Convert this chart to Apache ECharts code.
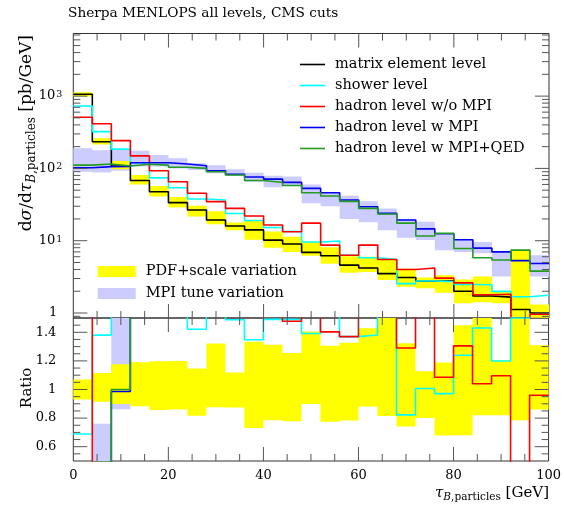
<!DOCTYPE html>
<html><head><meta charset="utf-8">
<script src="https://cdn.jsdelivr.net/npm/echarts@6/dist/echarts.min.js"></script>
<style>html,body{margin:0;padding:0;background:#fff}#c{width:564px;height:506px}</style>
</head><body><div id="c"></div>
<script>
// ---- data (bins of width 4 GeV) ----
const binEdges = [0,4,8,12,16,20,24,28,32,36,40,44,48,52,56,60,64,68,72,76,80,84,88,92,96,100];
const matrixElement = [1060,234,108,68,47.6,33.6,26.6,19.3,16.0,14.1,10.2,9.0,6.9,6.2,4.6,4.2,3.5,3.1,2.75,2.8,2.0,1.72,1.66,1.12,1.0];
const showerLevel  = [730,323,185,120,74,54,37.8,36.5,23.8,19.0,15.2,13.4,9.6,9.9,6.3,5.8,5.5,2.55,2.77,2.72,2.48,2.46,1.99,1.68,1.76];
const hadronNoMPI  = [509,415,242,149,93,65.5,45.3,34.7,28.0,22.0,16.5,13.3,17.5,8.7,6.3,8.7,5.5,4.0,4.2,3.04,2.61,1.79,1.82,0.1,0.96];
const hadronMPI    = [102,106,106.5,120,120,115,109,93,83,76,71,64,53,46,36.5,29.5,23.9,19.3,14.6,12.5,10.3,7.9,7.0,5.3,4.85];
const hadronMPIQED = [111,115,108,114,111,104,100,90,81,68,64,58,46,41.5,35,28,23.4,17.5,11.6,12.7,7.8,5.8,5.4,7.4,3.8];
const pdfScaleLo = [986,214,97,60,40.8,28.9,21.7,16.9,14.0,10.3,8.0,7.0,6.2,4.8,3.6,3.7,2.85,2.3,2.2,1.9,1.36,1.41,1.36,0.88,0.86];
const pdfScaleHi = [1134,261,127,81,57,40.3,30.5,25.5,17.9,18.8,13.4,11.3,9.7,8.1,6.1,6.0,5.6,4.1,3.1,3.33,2.9,3.2,2.0,7.4,1.31];
const mpiTuneLo = [90,88,93,106,106,100,95,85.5,78.5,65.5,55,57,33,30,20,18,14,11,10.2,7.4,7.0,6.7,3.2,4.5,3.2];
const mpiTuneHi = [190,178,180,176,153,138,118,111,97,87,79,77,60,46,42,35,28,20,18.3,12.2,10.2,9.6,7.0,6.5,6.3];
const xTickLabels = [0,20,40,60,80,100];
const ratioTickLabels = [0.6,0.8,1,1.2,1.4];

const F = 'DejaVu Serif';
const C = {black:'#000000', cyan:'#00ffff', red:'#ff0000', blue:'#0000ee', green:'#239b23', yellow:'#ffff00', lav:'#ccccff'};
const YMIN = 0.853, YMAX = 7345;

const chart = echarts.init(document.getElementById('c'), null, {renderer:'canvas'});

function stepData(vals, ratio){
  return binEdges.map((x,i)=>{ const k=Math.min(i,vals.length-1); return [x, ratio ? vals[k]/matrixElement[k] : vals[k]]; });
}
function lineSeries(name, vals, color, ratio){
  return {type:'line', name, step:'end', symbol:'none', showSymbol:false, clip:true, z:4,
    xAxisIndex: ratio?1:0, yAxisIndex: ratio?1:0,
    lineStyle:{color, width:1.6}, itemStyle:{color}, emphasis:{disabled:true},
    data: stepData(vals, ratio)};
}
function bandSeries(name, lo, hi, color, ratio){
  return {type:'custom', name, clip:true, z:2, silent:true,
    xAxisIndex: ratio?1:0, yAxisIndex: ratio?1:0, itemStyle:{color},
    data:[[50,1]], encode:{x:0,y:1},
    renderItem(params, api){
      const top=[], bot=[];
      for(let i=0;i<lo.length;i++){
        const d = ratio ? matrixElement[i] : 1;
        top.push(api.coord([binEdges[i], hi[i]/d]), api.coord([binEdges[i+1], hi[i]/d]));
        bot.push(api.coord([binEdges[i], lo[i]/d]), api.coord([binEdges[i+1], lo[i]/d]));
      }
      return {type:'polygon', shape:{points: top.concat(bot.reverse())}, style:{fill:color}};
    }};
}
function tickSeries(ratio){
  return {type:'custom', clip:false, z:6, silent:true,
    xAxisIndex: ratio?1:0, yAxisIndex: ratio?1:0,
    data:[[50,1]], encode:{x:0,y:1},
    renderItem(params, api){
      const cs = params.coordSys;
      const x0=cs.x, x1=cs.x+cs.width, y0=cs.y, y1=cs.y+cs.height;
      const ch=[]; const L=14, S=7; const st={stroke:'#555', lineWidth:1};
      const yRef = ratio ? 1 : 10;
      for(let v=5; v<100; v+=5){
        const px = api.coord([v, yRef])[0]; const len = (v%20===0)?L:S;
        ch.push({type:'line', shape:{x1:px,y1:y1,x2:px,y2:y1-len}, style:st});
        ch.push({type:'line', shape:{x1:px,y1:y0,x2:px,y2:y0+len}, style:st});
      }
      const yt=[];
      if(ratio){ for(let k=11;k<30;k++){ const v=k*0.05; yt.push([v, k%4===0]); } }
      else { for(let d=-1; d<=3; d++) for(let m=1;m<=9;m++){ const v=m*Math.pow(10,d); if(v>YMIN && v<YMAX) yt.push([v, m===1]); } }
      yt.forEach(([v,maj])=>{
        const py = api.coord([50, v])[1]; const len = maj?L:S;
        ch.push({type:'line', shape:{x1:x0,y1:py,x2:x0+len,y2:py}, style:st});
        ch.push({type:'line', shape:{x1:x1,y1:py,x2:x1-len,y2:py}, style:st});
      });
      return {type:'group', children:ch};
    }};
}

const gridL = 73.3, gridW = 475.7;
const option = {
  animation:false,
  backgroundColor:'#ffffff',
  title:{text:'Sherpa MENLOPS all levels, CMS cuts', left:68, top:6, padding:0,
    textStyle:{fontFamily:F, fontSize:13.7, fontWeight:'normal', color:'#000'}},
  grid:[
    {left:gridL, top:33.5, width:gridW, height:284.5, show:true, borderColor:'#333', borderWidth:1, backgroundColor:'transparent'},
    {left:gridL, top:318, width:gridW, height:143, show:true, borderColor:'#333', borderWidth:1, backgroundColor:'transparent'}
  ],
  xAxis:[
    {type:'value', gridIndex:0, min:0, max:100, interval:20, axisLine:{show:false}, axisTick:{show:false}, axisLabel:{show:false}, splitLine:{show:false}},
    {type:'value', gridIndex:1, min:0, max:100, interval:20, axisLine:{show:false}, axisTick:{show:false}, splitLine:{show:false},
      axisLabel:{margin:8, fontFamily:F, fontSize:13, color:'#000',
        formatter:v=> xTickLabels.indexOf(Math.round(v))>=0 ? String(Math.round(v)) : ''}}
  ],
  yAxis:[
    {type:'log', logBase:10, gridIndex:0, min:YMIN, max:YMAX, axisLine:{show:false}, axisTick:{show:false}, splitLine:{show:false},
      axisLabel:{margin:11, fontFamily:F, fontSize:13, color:'#000', showMinLabel:false, showMaxLabel:false,
        formatter:v=>{ const l=Math.log10(v); const r=Math.round(l); if(Math.abs(l-r)>1e-6) return ''; return r===0 ? '1{p|}' : '10{sup|'+r+'}'; },
        rich:{sup:{fontFamily:F, fontSize:9.5, verticalAlign:'top', lineHeight:10, padding:[0,0,6,1]}, p:{width:5}}}},
    {type:'value', gridIndex:1, min:0.5, max:1.5, interval:0.1, axisLine:{show:false}, axisTick:{show:false}, splitLine:{show:false},
      axisLabel:{margin:17, fontFamily:F, fontSize:13, color:'#000', showMinLabel:false, showMaxLabel:false,
        formatter:v=>{ const k=Math.round(v*10); const hit = ratioTickLabels.some(t=>Math.round(t*10)===k); return hit ? (k===10?'1':(k/10).toFixed(1)) : ''; }}}
  ],
  legend:[
    {data:['matrix element level','shower level','hadron level w/o MPI','hadron level w MPI','hadron level w MPI+QED'],
      orient:'vertical', left:300, top:56, padding:0, icon:'rect', itemWidth:25, itemHeight:1.6, itemGap:4, selectedMode:false,
      textStyle:{fontFamily:F, fontSize:14.5, color:'#000', lineHeight:17, padding:[0,0,0,5]}},
    {data:['PDF+scale variation','MPI tune variation'],
      orient:'vertical', left:97.7, top:263, padding:0, icon:'rect', itemWidth:38, itemHeight:11, itemGap:5, selectedMode:false,
      textStyle:{fontFamily:F, fontSize:14.5, color:'#000', lineHeight:17, padding:[0,0,0,5]}}
  ],
  graphic:[
    {type:'text', x:27, y:35, rotation:Math.PI/2, silent:true,
      style:{text:'d{it|σ}/d{it|τ}{subi|B}{sub|,particles} [pb/GeV]', align:'right', verticalAlign:'middle',
        fontFamily:F, fontSize:17, fill:'#000',
        rich:{it:{fontFamily:F, fontSize:17, fontStyle:'italic', lineHeight:22, verticalAlign:'middle'},
              subi:{fontFamily:F, fontSize:12, fontStyle:'italic', lineHeight:11, verticalAlign:'bottom', padding:[7,0,0,0]},
              sub:{fontFamily:F, fontSize:12, lineHeight:11, verticalAlign:'bottom', padding:[7,0,0,0]}}}},
    {type:'text', x:27, y:388, rotation:Math.PI/2, silent:true,
      style:{text:'Ratio', align:'center', verticalAlign:'middle', fontFamily:F, fontSize:15, fill:'#000'}},
    {type:'text', x:549, y:493, silent:true,
      style:{text:'{it|τ}{subi|B}{sub|,particles} [GeV]', align:'right', verticalAlign:'middle',
        fontFamily:F, fontSize:15, fill:'#000',
        rich:{it:{fontFamily:F, fontSize:15, fontStyle:'italic', lineHeight:20, verticalAlign:'middle'},
              subi:{fontFamily:F, fontSize:10.5, fontStyle:'italic', lineHeight:10, verticalAlign:'bottom', padding:[6,0,0,0]},
              sub:{fontFamily:F, fontSize:10.5, lineHeight:10, verticalAlign:'bottom', padding:[6,0,0,0]}}}}
  ],
  series:[
    bandSeries('MPI tune variation', mpiTuneLo, mpiTuneHi, C.lav, false),
    bandSeries('PDF+scale variation', pdfScaleLo, pdfScaleHi, C.yellow, false),
    lineSeries('matrix element level', matrixElement, C.black, false),
    lineSeries('shower level', showerLevel, C.cyan, false),
    lineSeries('hadron level w/o MPI', hadronNoMPI, C.red, false),
    lineSeries('hadron level w MPI', hadronMPI, C.blue, false),
    lineSeries('hadron level w MPI+QED', hadronMPIQED, C.green, false),
    tickSeries(false),
    bandSeries('MPI tune variation', mpiTuneLo, mpiTuneHi, C.lav, true),
    bandSeries('PDF+scale variation', pdfScaleLo, pdfScaleHi, C.yellow, true),
    lineSeries('shower level', showerLevel, C.cyan, true),
    lineSeries('hadron level w/o MPI', hadronNoMPI, C.red, true),
    lineSeries('hadron level w MPI', hadronMPI, C.blue, true),
    lineSeries('hadron level w MPI+QED', hadronMPIQED, C.green, true),
    tickSeries(true)
  ]
};
chart.setOption(option);
</script></body></html>
